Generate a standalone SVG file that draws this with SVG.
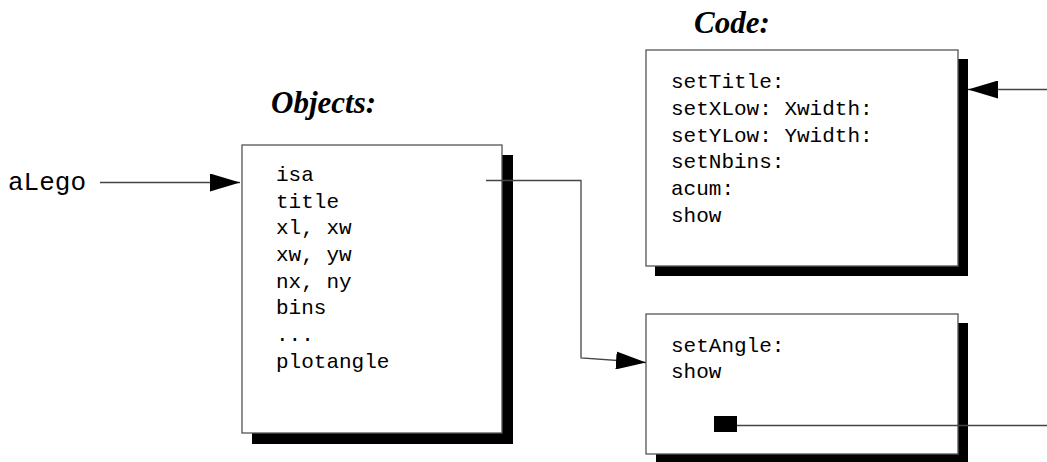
<svg xmlns="http://www.w3.org/2000/svg" width="1047" height="462" viewBox="0 0 1047 462">
<style>
.box{fill:#fff;stroke:#555;stroke-width:1.3}
.shadow{fill:#000}
.mono{font-family:"Liberation Mono","Courier New",monospace;font-size:21px;fill:#000}
.title{font-family:"Liberation Serif","Times New Roman",serif;font-size:31px;font-weight:bold;font-style:italic;fill:#000}
.conn{fill:none;stroke:#444;stroke-width:1.3}
</style>
<defs>
<marker id="arr" markerWidth="30" markerHeight="18" refX="30" refY="9" orient="auto" markerUnits="userSpaceOnUse">
<path d="M0,0 L30,9 L0,18 Z" fill="#000"/>
</marker>
</defs>
<rect width="1047" height="462" fill="#fff"/>
<text class="title" x="271" y="113">Objects:</text>
<text class="title" x="694" y="33">Code:</text>
<g id="objects">
<rect class="shadow" x="252" y="155" width="261" height="289"/>
<rect class="box" x="242" y="145" width="260" height="288"/>
<text class="mono" x="276" y="181">isa</text>
<text class="mono" x="276" y="208">title</text>
<text class="mono" x="276" y="234">xl, xw</text>
<text class="mono" x="276" y="261">xw, yw</text>
<text class="mono" x="276" y="288">nx, ny</text>
<text class="mono" x="276" y="314">bins</text>
<text class="mono" x="276" y="341">...</text>
<text class="mono" x="276" y="368">plotangle</text>
</g>
<g id="code">
<rect class="shadow" x="655" y="59" width="313" height="217"/>
<rect class="box" x="646" y="50" width="312" height="216"/>
<text class="mono" x="671" y="88">setTitle:</text>
<text class="mono" x="671" y="115">setXLow: Xwidth:</text>
<text class="mono" x="671" y="142">setYLow: Ywidth:</text>
<text class="mono" x="671" y="168">setNbins:</text>
<text class="mono" x="671" y="195">acum:</text>
<text class="mono" x="671" y="222">show</text>
</g>
<g id="subcode">
<rect class="shadow" x="656" y="323" width="312" height="141"/>
<rect class="box" x="646" y="314" width="312" height="140"/>
<text class="mono" x="671" y="352">setAngle:</text>
<text class="mono" x="671" y="378">show</text>
<rect class="shadow" x="714" y="416" width="23" height="16"/>
</g>
<g id="aLego">
<text class="mono" x="8" y="190" style="font-size:26px">aLego</text>
</g>
<g id="connectors">
<path class="conn" d="M100,182.5 L240,182.5" marker-end="url(#arr)"/>
<path class="conn" d="M486,180.5 L581,180.5 L581,358 L646,362.5" marker-end="url(#arr)"/>
<path class="conn" d="M1047,89.5 L968,89.5" marker-end="url(#arr)"/>
<path class="conn" d="M737,425.5 L1047,425.5"/>
</g>
</svg>
